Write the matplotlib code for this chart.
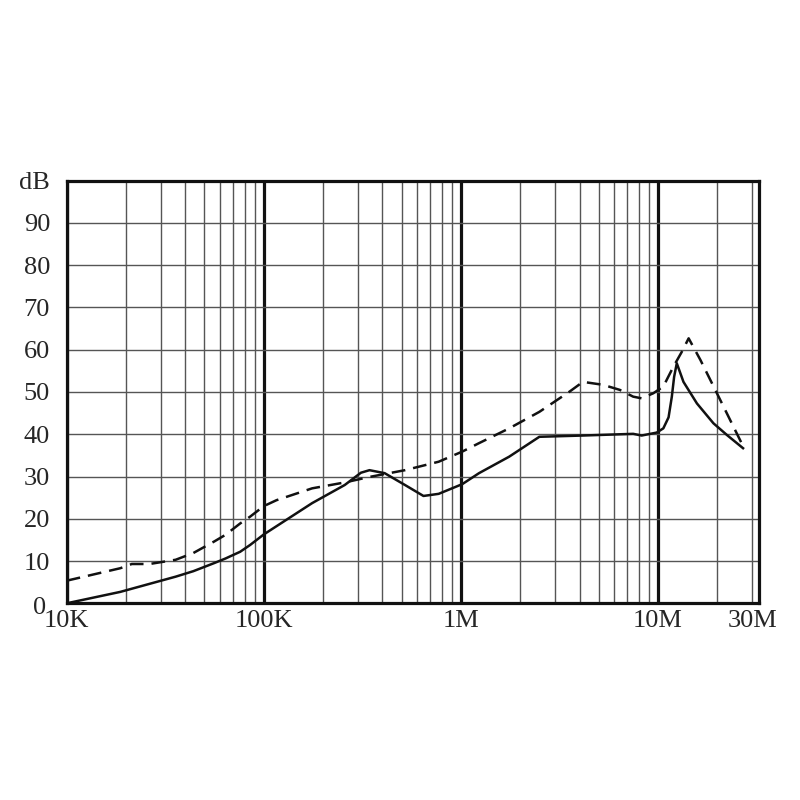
import matplotlib
matplotlib.use("Agg")
import matplotlib.pyplot as plt
from matplotlib.ticker import FixedLocator, FixedFormatter

# ---- data (frequency in Hz, level in dB) ----
solid_freq = [10e3, 18.7e3, 26.3e3, 35.7e3, 43.9e3, 55.9e3, 63.9e3, 75.9e3, 85.2e3,
              100e3, 175.8e3, 257.5e3, 311e3, 343.6e3, 410e3, 520e3, 645.6e3, 771e3,
              1.016e6, 1.236e6, 1.758e6, 2.5e6, 4.16e6, 7.48e6, 8.26e6, 9.85e6,
              10.64e6, 11.31e6, 11.75e6, 12.07e6, 12.45e6, 13.46e6, 15.75e6,
              19.1e6, 22.4e6, 27.0e6]
solid_db = [0.0, 2.7, 4.6, 6.3, 7.6, 9.5, 10.6, 12.2, 13.8,
            16.3, 23.7, 28.0, 30.9, 31.5, 30.8, 28.0, 25.4, 25.9,
            28.2, 30.8, 34.7, 39.4, 39.7, 40.1, 39.7, 40.4,
            41.4, 44.0, 48.9, 53.6, 56.8, 52.4, 47.3,
            42.6, 39.8, 36.7]

dashed_freq = [10e3, 18.7e3, 21.4e3, 26.3e3, 35.7e3, 43.9e3, 55.9e3, 63.9e3, 75.9e3,
               85.2e3, 100e3, 116e3, 175.8e3, 257.5e3, 343.6e3, 520e3, 771e3,
               1.016e6, 1.236e6, 1.758e6, 2.5e6, 3.56e6, 4.16e6, 5.26e6, 6.4e6,
               7.48e6, 8.26e6, 9.46e6, 10.64e6, 11.97e6, 13.2e6, 14.3e6, 16.4e6,
               19.9e6, 26.8e6]
dashed_db = [5.35, 8.3, 9.3, 9.3, 10.3, 11.9, 14.6, 16.2, 18.9,
             20.5, 23.0, 24.4, 27.2, 28.6, 29.9, 31.5, 33.5,
             35.9, 37.9, 41.4, 45.3, 50.1, 52.4, 51.7, 50.5,
             48.9, 48.5, 49.7, 51.3, 56.0, 59.5, 62.7, 57.6,
             49.7, 37.5]

x_major = [1e4, 1e5, 1e6, 1e7]
x_major_labels = ["10K", "100K", "1M", "10M"]
x_extra_label = (3e7, "30M")
x_max = 3.253e7
y_ticks = [10, 20, 30, 40, 50, 60, 70, 80, 90, 100]
y_labels = ["10", "20", "30", "40", "50", "60", "70", "80", "90", "dB"]

# ---- figure ----
plt.rcParams['font.family'] = ['Liberation Serif', 'DejaVu Serif']
FS = 19
fig = plt.figure(figsize=(8, 8), dpi=100)
W = H = 800.0
left, right, top, bottom = 66.7, 759.0, 180.7, 603.3
ax = fig.add_axes([left / W, 1 - bottom / H, (right - left) / W, (bottom - top) / H])

ax.set_xscale('log')
ax.set_xlim(1e4, x_max)
ax.set_ylim(0, 100)

# ticks
minor = [m * 10 ** e for e in range(4, 8) for m in range(2, 10) if m * 10 ** e <= x_max]
ax.xaxis.set_major_locator(FixedLocator(x_major))
ax.xaxis.set_major_formatter(FixedFormatter(x_major_labels))
ax.xaxis.set_minor_locator(FixedLocator(minor))
ax.xaxis.set_minor_formatter(FixedFormatter(
    [x_extra_label[1] if abs(v - x_extra_label[0]) < 1 else "" for v in minor]))
ax.yaxis.set_major_locator(FixedLocator(y_ticks))
ax.yaxis.set_major_formatter(FixedFormatter(y_labels))

ax.tick_params(axis='both', which='both', length=0, labelsize=FS, colors='#262626')
ax.tick_params(axis='x', which='both', pad=5)
ax.tick_params(axis='y', which='both', pad=12)

# grid
ax.grid(which='minor', axis='x', color='#555555', lw=1.0)
ax.grid(which='major', axis='x', color='#111111', lw=2.3)
ax.grid(which='major', axis='y', color='#555555', lw=1.0)
ax.set_axisbelow(True)

for s in ax.spines.values():
    s.set_linewidth(2.3)
    s.set_color('#111111')

ax.annotate("0", xy=(0, 0), xycoords=('axes fraction', 'data'),
            xytext=(-21, -5), textcoords='offset pixels',
            ha='right', va='center', fontsize=FS, color='#262626',
            annotation_clip=False)

ax.plot(solid_freq, solid_db, color='#111111', lw=1.8, zorder=3,
        solid_joinstyle='round')
ax.plot(dashed_freq, dashed_db, color='#111111', lw=1.8, zorder=3,
        dashes=(5.5, 3.2))

fig.savefig("out.png", dpi=100)
